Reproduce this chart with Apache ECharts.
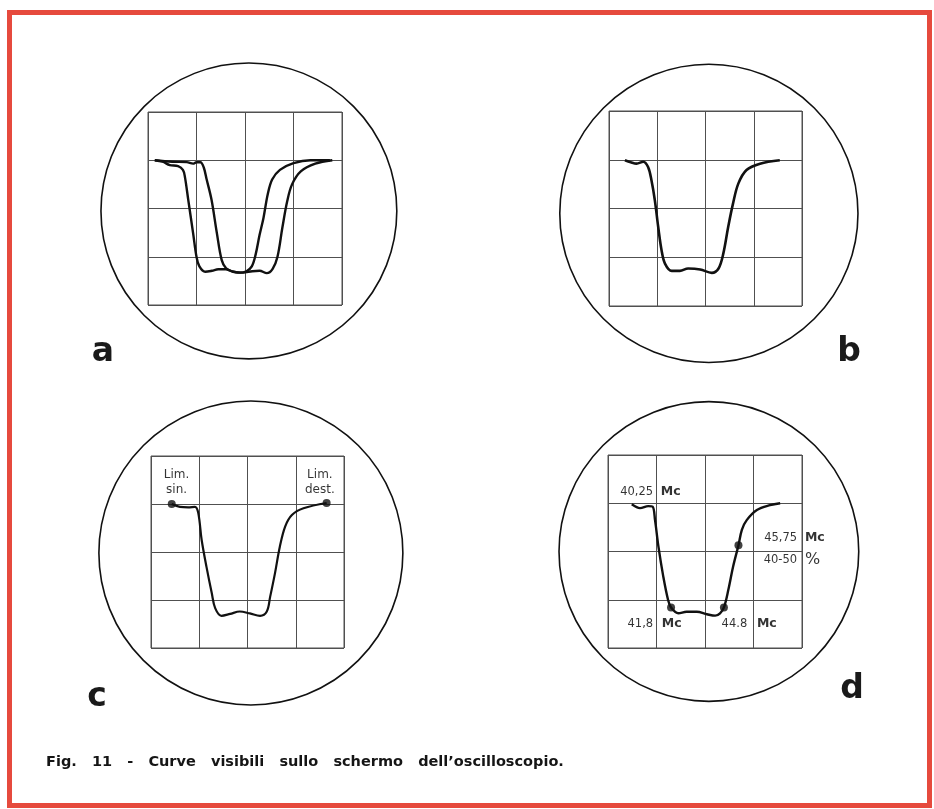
<!DOCTYPE html>
<html><head><meta charset="utf-8">
<script src="https://cdn.jsdelivr.net/npm/echarts@6/dist/echarts.min.js"></script>
<style>html,body{margin:0;padding:0;background:#fff}#c{width:934px;height:809px}</style>
</head><body><div id="c"></div>
<script>
// ---- data (grid units: 4 x 4 graticule, y up) ----
const panelLetters = ['a', 'b', 'c', 'd'];
const caption = 'Fig.   11   -   Curve   visibili   sullo   schermo   dell\u2019oscilloscopio.';

const curveA1 = [[0.14,3.0],[0.3,2.97],[0.45,2.9],[0.62,2.88],[0.72,2.8],[0.76,2.66],[0.83,2.18],[0.93,1.49],[1.0,1.0],[1.06,0.8],[1.18,0.69],[1.32,0.71],[1.45,0.74],[1.6,0.74],[1.75,0.69],[1.95,0.67],[2.15,0.7],[2.3,0.71],[2.45,0.66],[2.57,0.75],[2.67,1.0],[2.77,1.6],[2.87,2.15],[2.97,2.5],[3.15,2.77],[3.45,2.93],[3.8,3.0]];
const curveA2 = [[0.14,3.0],[0.5,2.97],[0.8,2.96],[0.93,2.93],[1.0,2.96],[1.08,2.96],[1.15,2.85],[1.21,2.6],[1.31,2.18],[1.42,1.49],[1.52,0.93],[1.61,0.76],[1.72,0.7],[1.9,0.67],[2.03,0.7],[2.14,0.8],[2.22,1.05],[2.3,1.45],[2.38,1.8],[2.47,2.3],[2.56,2.6],[2.72,2.8],[3.0,2.94],[3.35,3.0],[3.75,3.0]];
const curveB = [[0.33,2.99],[0.45,2.95],[0.57,2.92],[0.71,2.96],[0.81,2.85],[0.88,2.58],[0.95,2.17],[1.02,1.62],[1.09,1.14],[1.16,0.87],[1.3,0.72],[1.47,0.72],[1.64,0.77],[1.89,0.75],[2.13,0.68],[2.27,0.77],[2.37,1.08],[2.47,1.62],[2.57,2.1],[2.68,2.51],[2.85,2.79],[3.13,2.92],[3.54,2.99]];
const curveC = [[0.43,3.0],[0.6,2.94],[0.77,2.93],[0.91,2.94],[0.98,2.81],[1.05,2.25],[1.15,1.69],[1.26,1.14],[1.33,0.83],[1.46,0.67],[1.64,0.71],[1.84,0.76],[2.05,0.72],[2.26,0.67],[2.4,0.76],[2.47,1.07],[2.57,1.56],[2.67,2.11],[2.78,2.53],[2.92,2.77],[3.16,2.91],[3.64,3.02]];
const curveD = [[0.49,2.98],[0.59,2.92],[0.66,2.9],[0.83,2.94],[0.92,2.93],[0.97,2.65],[1.04,2.1],[1.14,1.48],[1.24,0.99],[1.3,0.84],[1.45,0.72],[1.62,0.75],[1.83,0.75],[2.04,0.7],[2.21,0.67],[2.31,0.72],[2.39,0.84],[2.48,1.2],[2.58,1.69],[2.69,2.13],[2.76,2.45],[2.86,2.65],[3.07,2.86],[3.34,2.96],[3.55,3.0]];

const cMarkers = [[0.43,3.0],[3.64,3.02]];
const dMarkers = [[1.30,0.84],[2.39,0.84],[2.69,2.13]];

const cLabels = ['Lim.\nsin.', 'Lim.\ndest.'];
const dNumbers = ['40,25', '45,75', '40-50', '41,8', '44.8'];
const dUnits = ['Mc', 'Mc', '%', 'Mc', 'Mc'];

// screen circles: centre x, centre y, radius (grid units)
const screenCircles = [[2.08,1.95,3.05],[2.07,1.90,3.09],[2.07,1.98,3.15],[2.08,2.0,3.09]];

// ---- layout / style ----
const gridBoxes = [
  {left:148, top:112, width:194, height:193},
  {left:609, top:111, width:193, height:195},
  {left:151, top:456, width:193, height:192},
  {left:608, top:455, width:194, height:193}
];
const cLabelAnchors = [[0.53,3.45],[3.50,3.45]];
const dNumberAnchors = [[0.93,3.23],[3.90,2.28],[3.90,1.82],[0.93,0.50],[2.87,0.50]];
const dUnitAnchors = [[1.09,3.23],[4.06,2.28],[4.06,1.82],[1.11,0.50],[3.07,0.50]];
const letterPos = [[103,352],[849,352],[97,697],[852,689]];

const INK = '#111';
const GRIDC = '#505050';
const FONT = '"DejaVu Sans", sans-serif';

const grids = gridBoxes.map(b => Object.assign({show:true, borderColor:GRIDC, borderWidth:1, backgroundColor:'transparent'}, b));
const axisBase = {type:'value', min:0, max:4, interval:1,
  axisLabel:{show:false}, axisTick:{show:false}, axisLine:{show:false},
  splitLine:{show:true, lineStyle:{color:GRIDC, width:1}}};
const xAxes = gridBoxes.map((b,i) => Object.assign({gridIndex:i}, axisBase));
const yAxes = gridBoxes.map((b,i) => Object.assign({gridIndex:i}, axisBase));

const series = [];
screenCircles.forEach((c, i) => {
  series.push({
    type:'custom', xAxisIndex:i, yAxisIndex:i, clip:false, silent:true,
    data:[c], encode:{x:0, y:1},
    renderItem:(params, api) => {
      const p = api.coord([api.value(0), api.value(1)]);
      const r = api.size([api.value(2), 0])[0];
      return {type:'circle', shape:{cx:p[0], cy:p[1], r:r},
        style:{fill:'none', stroke:INK, lineWidth:1.6}};
    }
  });
});
function curve(data, i, w) {
  return {type:'line', xAxisIndex:i, yAxisIndex:i, data:data, showSymbol:false,
    smooth:0.35, lineStyle:{color:INK, width:w}, silent:true};
}
series.push(curve(curveA1, 0, 2.4));
series.push(curve(curveA2, 0, 2.4));
series.push(curve(curveB, 1, 2.6));
series.push(curve(curveC, 2, 2.2));
series.push(curve(curveD, 3, 2.4));
series.push({type:'scatter', xAxisIndex:2, yAxisIndex:2, data:cMarkers, symbolSize:8, itemStyle:{color:INK}, clip:false, silent:true});
series.push({type:'scatter', xAxisIndex:3, yAxisIndex:3, data:dMarkers, symbolSize:8, itemStyle:{color:INK}, clip:false, silent:true});

function textSeries(i, texts, anchors, pos, font) {
  return {type:'scatter', xAxisIndex:i, yAxisIndex:i, symbolSize:0, clip:false, silent:true,
    data: texts.map((t, k) => ({value: anchors[k], name: t,
      label: Object.assign({show:true, position:pos, distance:0, formatter:t, color:'#000',
        fontFamily:FONT}, font(t))}))};
}
series.push(textSeries(2, cLabels, cLabelAnchors, 'inside', () => ({fontSize:12, lineHeight:15, align:'center'})));
series.push(textSeries(3, dNumbers, dNumberAnchors, 'left', () => ({fontSize:11.5})));
series.push(textSeries(3, dUnits, dUnitAnchors, 'right', t => (t === '%' ? {fontSize:16} : {fontSize:12.5, fontWeight:'bold'})));

const graphics = [
  {type:'rect', shape:{x:9.5, y:12.5, width:920, height:793}, style:{fill:'none', stroke:'#e64a3d', lineWidth:5}, silent:true},
  {type:'text', x:46, y:762, style:{text:caption, font:'bold 14.5px ' + FONT, fill:'#151515', textVerticalAlign:'middle'}, silent:true}
];
panelLetters.forEach((t, i) => {
  graphics.push({type:'text', x:letterPos[i][0], y:letterPos[i][1],
    style:{text:t, font:'bold 33px ' + FONT, fill:'#1a1a1a', textAlign:'center', textVerticalAlign:'middle'}, silent:true});
});

const chart = echarts.init(document.getElementById('c'), null, {renderer:'canvas'});
chart.setOption({
  backgroundColor:'#ffffff', animation:false,
  grid:grids, xAxis:xAxes, yAxis:yAxes, series:series, graphic:graphics
});
</script></body></html>
